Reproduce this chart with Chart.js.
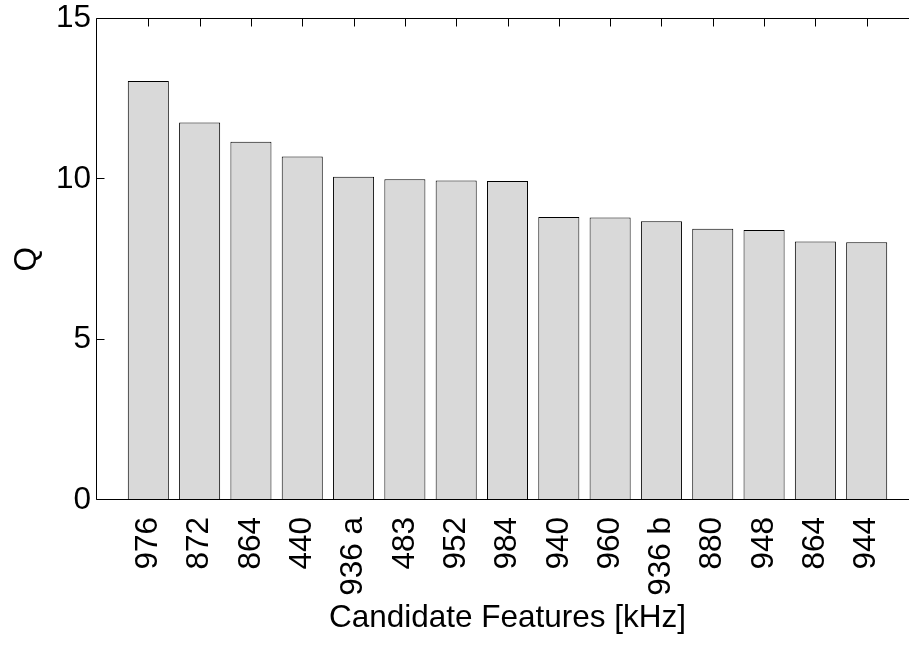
<!DOCTYPE html>
<html>
<head>
<meta charset="utf-8">
<script src="https://cdn.jsdelivr.net/npm/chart.js@4.4.1/dist/chart.umd.min.js"></script>
<style>
  html, body { margin: 0; padding: 0; background: #fff; overflow: hidden; }
  #wrap { width: 930px; height: 646px; }
</style>
</head>
<body>
<div id="wrap"><canvas id="qChart" width="930" height="646"></canvas></div>
<script>
// candidate features, sorted by Q
const featureLabels = ['976', '872', '864', '440', '936 a', '483', '952', '984', '940', '960', '936 b', '880', '948', '864', '944'];
const qValues = [13.05, 11.76, 11.16, 10.70, 10.07, 9.99, 9.95, 9.94, 8.82, 8.80, 8.68, 8.45, 8.41, 8.05, 8.03];
const yTicks = [0, 5, 10, 15];

Chart.defaults.font.family = '"Liberation Sans", Arial, Helvetica, sans-serif';
Chart.defaults.color = '#000';

// box + inward ticks, matlab style
const matlabAxes = {
    id: 'matlabAxes',
    afterDatasetsDraw(chart) {
        const ctx = chart.ctx;
        const a = chart.chartArea;
        const xs = chart.scales.x, ys = chart.scales.y;
        const L = Math.round(a.left) - 0.5, R = Math.round(a.right) - 0.5;
        const T = Math.round(a.top) - 0.5, B = Math.round(a.bottom) - 0.5;
        const tl = 8;
        ctx.save();
        ctx.strokeStyle = '#000';
        ctx.lineWidth = 1;
        ctx.beginPath();
        ctx.rect(L, T, R - L, B - T);
        // top ticks at each category
        featureLabels.forEach((_, i) => {
            const px = Math.round(xs.getPixelForValue(i + 1)) + 0.5;
            ctx.moveTo(px, T); ctx.lineTo(px, T + tl);
        });
        // left/right ticks
        yTicks.forEach(v => {
            const py = Math.round(ys.getPixelForValue(v)) - 0.5;
            ctx.moveTo(L, py); ctx.lineTo(L + tl, py);
            ctx.moveTo(R, py); ctx.lineTo(R - tl, py);
        });
        ctx.stroke();
        ctx.restore();
    }
};

const ctx = document.getElementById('qChart').getContext('2d');
new Chart(ctx, {
    type: 'bar',
    data: {
        datasets: [{
            data: qValues.map((v, i) => ({ x: i + 1, y: v })),
            backgroundColor: '#d9d9d9',
            borderColor: '#000',
            borderWidth: 1,
            barPercentage: 0.8,
            categoryPercentage: 1
        }]
    },
    options: {
        responsive: false,
        animation: false,
        layout: { padding: { left: 0, right: 12, top: 18.5, bottom: 0 } },
        plugins: { legend: { display: false }, tooltip: { enabled: false } },
        scales: {
            x: {
                type: 'linear',
                min: 0, max: featureLabels.length + 1,
                offset: false,
                grid: { display: false, drawTicks: false },
                border: { display: false },
                afterBuildTicks: scale => { scale.ticks = featureLabels.map((_, i) => ({ value: i + 1 })); },
                afterFit: scale => { scale.height = 146; scale.paddingLeft = 0; scale.paddingRight = 0; },
                ticks: {
                    autoSkip: false, minRotation: 90, maxRotation: 90, padding: 17,
                    font: { size: 31.5 },
                    callback: value => featureLabels[value - 1]
                },
                title: { display: true, text: 'Candidate Features [kHz]', font: { size: 31.5 }, padding: { top: 0, bottom: 9 } }
            },
            y: {
                min: 0, max: 15,
                grid: { display: false, drawTicks: false },
                border: { display: false },
                afterBuildTicks: scale => { scale.ticks = yTicks.map(v => ({ value: v })); },
                afterFit: scale => { scale.width = 97; scale.paddingTop = 0; scale.paddingBottom = 0; },
                ticks: { padding: 6, font: { size: 31.5 } },
                title: { display: true, text: 'Q', font: { size: 31.5 }, padding: { top: 8, bottom: 0 } }
            }
        }
    },
    plugins: [matlabAxes]
});
</script>
</body>
</html>
